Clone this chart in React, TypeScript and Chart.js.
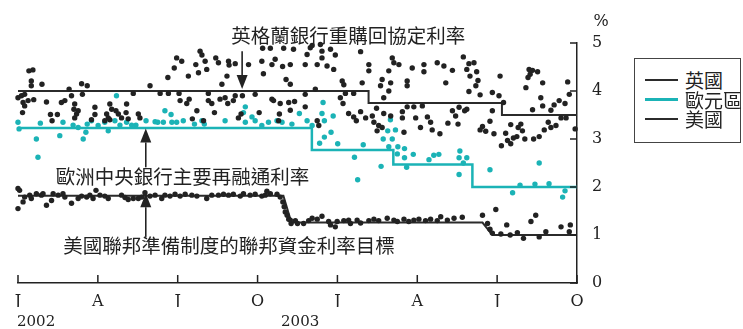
import { useEffect, useRef } from 'react';
import { Chart, registerables } from 'chart.js';
Chart.register(...registerables);

// x values are months since January 2002
const quarterTickMonths = [0, 3, 6, 9, 12, 15, 18, 21];
const quarterTickLabels = ['J', 'A', 'J', 'O', 'J', 'A', 'J', 'O'];
const yearLabels = ['2002', '2003'];
const yearLabelMonths = [0.68, 10.6];
const legendLabels = ['英國', '歐元區', '美國'];

// policy rates (step lines)
const ukRate: [number, number][] = [[0, 4.0], [13.17, 3.75], [18.18, 3.5], [21, 3.5]];
const euroRate: [number, number][] = [[0, 3.23], [11.04, 2.77], [14.1, 2.47], [17.07, 2.0], [21, 2.0]];
const usRate: [number, number][] = [[0, 1.82], [9.97, 1.82], [10.27, 1.26], [17.45, 1.26], [17.82, 1.0], [21, 1.0]];

// market rates (dots)
const ukDots: [number, number][] = [
  [0.0, 3.86], [0.13, 3.9], [0.25, 3.93], [0.19, 3.76], [0.25, 3.69], [0.17, 3.55], [0.38, 3.8], [0.59, 3.82], [0.5, 4.11], [0.5, 4.21], [0.41, 4.42], [0.56, 4.44], [0.9, 4.14], [1.07, 3.77], [1.22, 3.51], [1.28, 3.38], [1.48, 3.51], [1.63, 3.76], [1.76, 3.8], [2.01, 3.9], [1.92, 4.04], [2.13, 3.73], [2.1, 3.62], [2.2, 3.52], [2.26, 3.59], [2.13, 3.44], [2.39, 4.15], [2.6, 4.11], [2.42, 3.93], [2.89, 3.66], [2.89, 3.51], [2.76, 3.4], [3.45, 3.73], [3.52, 3.62], [3.68, 3.59], [3.33, 3.52], [3.39, 3.44], [3.26, 3.38], [3.45, 3.4], [3.77, 3.52], [3.89, 3.44], [4.08, 3.73], [4.06, 3.55], [4.14, 3.42], [4.33, 3.95], [4.52, 3.52], [4.58, 3.44], [4.96, 4.11],
  [5.63, 4.28], [5.87, 4.48], [5.96, 4.69], [6.15, 4.62], [6.4, 4.31], [6.68, 4.55], [6.78, 4.38], [6.84, 4.83], [6.91, 4.75], [7.03, 4.62], [7.09, 4.45], [7.43, 4.69], [7.53, 4.59], [7.91, 4.62], [7.93, 4.54], [8.16, 4.57], [7.85, 4.31], [7.66, 4.14], [8.66, 4.55], [9.16, 4.62], [9.19, 4.89], [9.48, 4.89], [9.22, 4.36], [9.54, 4.55], [9.66, 4.66], [9.94, 4.51], [9.98, 4.89], [10.23, 4.55], [10.07, 4.24], [10.23, 4.14], [10.35, 4.87],
  [5.34, 3.95], [5.65, 3.95], [6.05, 3.95], [7.15, 3.95], [6.09, 3.8], [6.34, 3.74], [6.43, 3.83], [7.15, 3.8], [7.28, 3.74], [7.59, 3.83], [7.78, 3.86], [7.88, 3.74], [8.09, 3.8], [8.16, 3.9], [8.43, 3.9], [8.91, 3.93], [9.54, 3.83], [9.6, 3.8], [9.85, 3.74], [10.17, 3.76], [10.39, 3.78], [6.72, 3.59], [7.38, 3.55], [6.55, 3.42], [6.97, 3.38], [8.28, 3.44], [8.38, 3.52], [9.06, 3.55], [9.82, 3.52], [9.79, 3.38], [10.23, 3.6],
  [10.79, 4.55], [10.86, 4.76], [10.98, 4.9], [11.05, 4.95], [11.36, 4.97], [11.42, 4.83], [11.42, 4.69], [11.24, 4.55], [11.61, 4.52], [11.86, 4.45], [11.74, 4.87], [11.92, 4.75], [12.87, 4.82], [13.18, 4.55], [13.18, 4.42], [12.93, 4.17], [12.18, 4.21], [12.24, 4.13], [11.17, 4.04], [14.06, 4.69], [14.12, 4.59], [14.31, 4.55], [13.93, 4.42], [13.68, 4.24], [14.0, 4.17], [13.62, 4.11], [13.93, 4.0], [13.74, 3.86], [14.62, 4.21], [14.62, 4.11], [14.81, 4.48], [15.25, 4.55], [15.25, 4.4], [15.75, 4.59], [16.0, 4.52], [16.07, 4.17],
  [10.79, 3.93], [12.3, 3.95], [12.61, 3.95], [12.11, 3.86], [12.21, 3.74], [10.79, 3.67], [12.42, 3.53], [12.61, 3.46], [12.71, 3.38], [12.87, 3.57], [13.06, 3.44], [13.31, 3.48], [13.47, 3.64], [13.37, 3.35], [13.55, 3.28], [13.49, 3.17], [13.68, 3.24], [13.74, 3.53], [14.0, 3.48], [14.44, 3.57], [14.44, 3.44], [14.62, 3.67], [14.87, 3.67], [15.19, 3.69], [14.94, 3.44], [15.38, 3.46], [15.5, 3.35], [15.12, 3.24], [15.56, 3.19], [15.85, 3.11], [14.5, 3.14], [11.24, 3.38], [11.3, 3.28],
  [16.32, 4.43], [16.73, 4.71], [16.86, 4.45], [16.94, 4.57], [17.13, 4.59], [17.23, 4.4], [16.98, 4.31], [17.28, 4.22], [17.2, 4.11], [16.94, 3.99], [17.36, 3.92], [17.82, 3.97], [18.07, 3.9], [18.11, 4.31], [18.24, 3.76], [19.08, 4.07], [19.2, 4.45], [19.24, 4.35], [19.16, 4.28], [19.33, 4.43], [19.52, 4.4], [19.71, 4.17], [19.64, 3.86], [19.71, 3.69], [20.65, 4.19], [20.71, 3.93], [20.33, 3.8], [20.55, 3.74], [20.14, 3.71], [20.02, 3.6], [19.92, 3.35], [19.33, 3.61],
  [16.32, 3.59], [16.44, 3.48], [16.57, 3.66], [16.78, 3.59], [16.86, 3.62], [16.15, 3.33], [16.53, 3.31], [17.82, 3.59], [17.73, 3.37], [17.45, 3.26], [17.36, 3.19], [17.57, 3.16], [17.88, 3.11], [18.51, 3.3], [18.32, 3.12], [18.79, 3.24], [18.89, 3.31], [18.95, 3.17], [18.74, 3.05], [18.61, 3.02], [18.39, 2.97], [18.51, 2.9], [18.16, 2.86], [19.04, 3.0], [19.37, 3.0], [19.58, 3.05], [19.77, 3.19], [20.02, 3.24], [20.21, 3.28], [20.4, 3.44], [20.59, 3.44], [20.93, 3.21],
];

const euroDots: [number, number][] = [
  [0.0, 3.35], [0.04, 3.21], [0.69, 3.0], [0.75, 2.62], [0.84, 3.33], [1.57, 3.07], [1.69, 3.35], [2.07, 3.29], [2.26, 3.24], [2.45, 3.0], [2.55, 3.14], [2.6, 3.31], [2.76, 3.38], [3.01, 3.28], [3.26, 3.35], [3.39, 3.17], [3.7, 3.9], [3.64, 3.38], [3.83, 3.29], [4.08, 3.35], [4.27, 3.29], [4.43, 3.29], [4.81, 3.38], [5.15, 3.36],
  [5.52, 3.59], [5.75, 3.51], [5.25, 3.35], [5.46, 3.35], [5.78, 3.35], [5.96, 3.35], [6.21, 3.38], [6.63, 3.31], [6.91, 3.38], [7.0, 3.31], [7.78, 3.38], [8.54, 3.67], [8.47, 3.55], [8.54, 3.35], [8.79, 3.46], [8.91, 3.38], [9.16, 3.28], [9.41, 3.35], [9.73, 3.38], [9.92, 3.35], [10.29, 3.31], [10.57, 3.53],
  [11.46, 3.76], [11.42, 3.53], [11.51, 3.38], [11.84, 3.48], [10.86, 3.38], [11.05, 3.28], [11.76, 3.14], [11.51, 3.04], [11.33, 2.91], [12.01, 2.9], [12.97, 2.88], [12.64, 2.62], [12.76, 2.15], [13.64, 2.43], [13.99, 3.4], [13.89, 3.17], [14.18, 3.19], [13.72, 3.0], [14.06, 3.0], [13.93, 2.84], [14.27, 2.84], [14.25, 2.69], [14.52, 2.8], [14.52, 2.61], [14.85, 2.68], [14.6, 2.41], [15.44, 2.57], [15.62, 2.66], [15.81, 2.68],
  [16.6, 2.75], [16.57, 2.61], [16.86, 2.61], [16.73, 2.5], [16.57, 2.26], [17.73, 2.36], [19.58, 2.5], [18.58, 1.88], [18.86, 2.04], [19.42, 2.06], [19.95, 2.07], [20.55, 1.92], [20.46, 1.79],
];

const usDots: [number, number][] = [
  [0.06, 1.93], [0.0, 1.55], [0.19, 1.69], [0.25, 1.79], [0.44, 1.83], [0.5, 1.76], [0.69, 1.86], [0.88, 1.83], [0.94, 1.86], [1.07, 1.62], [1.26, 1.72], [1.32, 1.86], [1.51, 1.83], [1.69, 1.86], [1.76, 1.79], [2.01, 1.66], [2.26, 1.76], [2.39, 1.81], [2.58, 1.79], [2.7, 1.83], [2.82, 1.76], [2.93, 1.93], [3.08, 1.83], [3.26, 1.81], [3.39, 1.76], [3.89, 1.83], [4.02, 1.78], [4.14, 1.74], [4.33, 1.76], [4.52, 1.76], [4.65, 1.79], [4.77, 1.88], [4.96, 1.81], [5.15, 1.83], [5.4, 1.76], [5.52, 1.83], [5.71, 1.81], [5.9, 1.85], [6.09, 1.81], [6.28, 1.85], [6.53, 1.83], [6.72, 1.81], [7.09, 1.76], [7.28, 1.83], [7.53, 1.83], [7.72, 1.85], [7.91, 1.83], [8.09, 1.85], [8.35, 1.81], [8.47, 1.86], [8.72, 1.83], [8.91, 1.85], [9.16, 1.81], [9.29, 1.83], [9.48, 1.86], [9.73, 1.85], [9.85, 1.79], [9.95, 1.69], [10.0, 1.59], [10.04, 1.48], [10.11, 1.41], [10.17, 1.33], [10.26, 1.24], [10.42, 1.3], [10.5, 1.24], [0.0, 1.97], [9.35, 1.91],
  [10.23, 1.31], [10.73, 1.24], [10.92, 1.3], [11.05, 1.35], [11.24, 1.33], [11.42, 1.39], [11.67, 1.28], [11.74, 1.21], [11.92, 1.17], [11.99, 1.28], [12.24, 1.3], [12.42, 1.31], [12.49, 1.24], [12.74, 1.31], [12.87, 1.25], [13.18, 1.3], [13.37, 1.33], [13.55, 1.3], [13.87, 1.35], [14.12, 1.31], [14.25, 1.28], [14.5, 1.33], [14.68, 1.28], [14.87, 1.31], [15.06, 1.33], [15.31, 1.3], [15.5, 1.33], [15.75, 1.3], [15.88, 1.38], [16.13, 1.31], [16.38, 1.35], [16.69, 1.37], [17.45, 1.41], [17.64, 1.24], [17.73, 1.12], [17.82, 1.04], [17.95, 1.53], [18.14, 1.02], [18.36, 1.21], [18.49, 1.0], [18.76, 1.05], [18.99, 0.93], [19.27, 1.28], [19.45, 1.41], [19.58, 0.96], [19.83, 1.07], [20.4, 1.17], [20.75, 1.21], [20.71, 1.07],
];

const annotations = [
  { text: '英格蘭銀行重購回協定利率', x: 12.41, y: 5.16, arrowX: 8.42, from: 4.83, to: 4.04 },
  { text: '歐洲中央銀行主要再融通利率', x: 6.18, y: 2.22, arrowX: 4.8, from: 2.41, to: 3.22 },
  { text: '美國聯邦準備制度的聯邦資金利率目標', x: 7.93, y: 0.77, arrowX: 4.8, from: 0.96, to: 1.87 },
];

const INK = '#222222';
const CYAN = '#1bb3b6';
const SERIF = '"DejaVu Serif", "Liberation Serif", serif';
const CJK = '"Noto Sans CJK TC", "Noto Sans CJK SC", sans-serif';

const toXY = (arr: [number, number][]) => arr.map(([x, y]) => ({ x, y }));

const decorPlugin = {
  id: 'decor',
  afterDraw(chart: any) {
    const { ctx } = chart;
    const xs = chart.scales.x;
    const ys = chart.scales.y;
    ctx.save();
    ctx.strokeStyle = INK;
    ctx.lineWidth = 1.5;
    ctx.beginPath();
    quarterTickMonths.forEach((m) => {
      const px = xs.getPixelForValue(m);
      ctx.moveTo(px, xs.top);
      ctx.lineTo(px, xs.top - 8);
    });
    ys.ticks.forEach((t: any) => {
      const py = ys.getPixelForValue(t.value);
      ctx.moveTo(ys.left, py);
      ctx.lineTo(ys.left - 7, py);
    });
    ctx.stroke();

    // % unit label
    ctx.fillStyle = INK;
    ctx.font = `16px ${SERIF}`;
    ctx.textAlign = 'center';
    ctx.textBaseline = 'middle';
    ctx.fillText('%', ys.left + 24, ys.top - 21);

    // annotations
    ctx.font = `19.5px ${CJK}`;
    annotations.forEach((a) => {
      ctx.fillStyle = INK;
      ctx.fillText(a.text, xs.getPixelForValue(a.x), ys.getPixelForValue(a.y));
      const ax = xs.getPixelForValue(a.arrowX);
      const y0 = ys.getPixelForValue(a.from);
      const y1 = ys.getPixelForValue(a.to);
      const dir = y1 > y0 ? 1 : -1;
      const headLen = 14;
      ctx.beginPath();
      ctx.lineWidth = 1.6;
      ctx.moveTo(ax, y0);
      ctx.lineTo(ax, y1 - dir * headLen);
      ctx.stroke();
      ctx.beginPath();
      ctx.moveTo(ax, y1);
      ctx.lineTo(ax - 5.5, y1 - dir * headLen);
      ctx.lineTo(ax + 5.5, y1 - dir * headLen);
      ctx.closePath();
      ctx.fill();
    });
    ctx.restore();
  },
};

function ChartCanvas() {
  const ref = useRef<HTMLCanvasElement | null>(null);
  useEffect(() => {
    if (!ref.current) return;
    const dot = (data: [number, number][], color: string) => ({
      data: toXY(data),
      showLine: false,
      pointRadius: 2.7,
      pointBorderWidth: 0,
      pointBackgroundColor: color,
      backgroundColor: color,
      borderColor: color,
      clip: 6,
    });
    const line = (data: [number, number][], color: string, width: number, stepped: any) => ({
      data: toXY(data),
      showLine: true,
      stepped,
      pointRadius: 0,
      borderColor: color,
      borderWidth: width,
      fill: false,
      clip: 6,
    });
    const chart = new Chart(ref.current, {
      type: 'scatter',
      data: {
        datasets: [
          dot(ukDots, INK),
          dot(euroDots, CYAN),
          dot(usDots, INK),
          line(ukRate, '#2b2b2b', 2, 'before'),
          line(euroRate, CYAN, 2.5, 'before'),
          line(usRate, '#2b2b2b', 2, false),
        ] as any,
      },
      options: {
        animation: false,
        responsive: false,
        devicePixelRatio: 1,
        layout: { padding: { left: 18, top: 43, right: 0, bottom: 0 } },
        plugins: { legend: { display: false }, tooltip: { enabled: false } },
        scales: {
          x: {
            type: 'linear',
            position: 'bottom',
            weight: 0,
            min: 0,
            max: 21,
            grid: { display: false, drawTicks: false },
            border: { display: true, color: INK, width: 1.5 },
            afterBuildTicks: (s: any) => {
              s.ticks = quarterTickMonths.map((v) => ({ value: v }));
            },
            afterFit: (s: any) => {
              s.height = 24;
            },
            ticks: {
              autoSkip: false,
              maxRotation: 0,
              padding: 9,
              color: INK,
              font: { family: SERIF, size: 16 },
              callback: (_v: any, i: number) => quarterTickLabels[i],
            },
          },
          x2: {
            type: 'linear',
            position: 'bottom',
            weight: 1,
            min: 0,
            max: 21,
            grid: { display: false, drawTicks: false },
            border: { display: false },
            afterBuildTicks: (s: any) => {
              s.ticks = yearLabelMonths.map((v) => ({ value: v }));
            },
            afterFit: (s: any) => {
              s.height = 22;
            },
            ticks: {
              autoSkip: false,
              maxRotation: 0,
              padding: 6,
              color: INK,
              font: { family: SERIF, size: 15 },
              callback: (_v: any, i: number) => yearLabels[i],
            },
          },
          y: {
            type: 'linear',
            position: 'right',
            min: 0,
            max: 5,
            grid: { display: false, drawTicks: false },
            border: { display: true, color: INK, width: 1.5 },
            afterFit: (s: any) => {
              s.width = 166;
            },
            ticks: {
              stepSize: 1,
              padding: 15,
              color: INK,
              font: { family: SERIF, size: 16 },
            },
          },
        },
      } as any,
      plugins: [decorPlugin],
    });
    return () => chart.destroy();
  }, []);
  return <canvas ref={ref} width={743} height={329} style={{ display: 'block' }} />;
}

function Legend() {
  const rows = [
    { label: legendLabels[0], color: '#2b2b2b', w: 2 },
    { label: legendLabels[1], color: CYAN, w: 3 },
    { label: legendLabels[2], color: '#2b2b2b', w: 2 },
  ];
  return (
    <div
      style={{
        position: 'absolute',
        left: 634,
        top: 58,
        width: 107,
        height: 85,
        border: '1.5px solid #444',
        boxSizing: 'border-box',
        background: '#fff',
        fontFamily: CJK,
        fontSize: 19,
        color: INK,
      }}
    >
      {rows.map((r, i) => (
        <div key={i} style={{ position: 'absolute', left: 0, top: 11 + i * 19.5, height: 20, width: '100%' }}>
          <div style={{ position: 'absolute', left: 10, top: 10 - r.w / 2, width: 33, height: r.w, background: r.color }} />
          <span style={{ position: 'absolute', left: 50, top: 0, lineHeight: '20px', whiteSpace: 'nowrap' }}>{r.label}</span>
        </div>
      ))}
    </div>
  );
}

export default function App() {
  return (
    <div style={{ position: 'absolute', left: 0, top: 0, width: 743, height: 329, background: '#fff' }}>
      <ChartCanvas />
      <Legend />
    </div>
  );
}
